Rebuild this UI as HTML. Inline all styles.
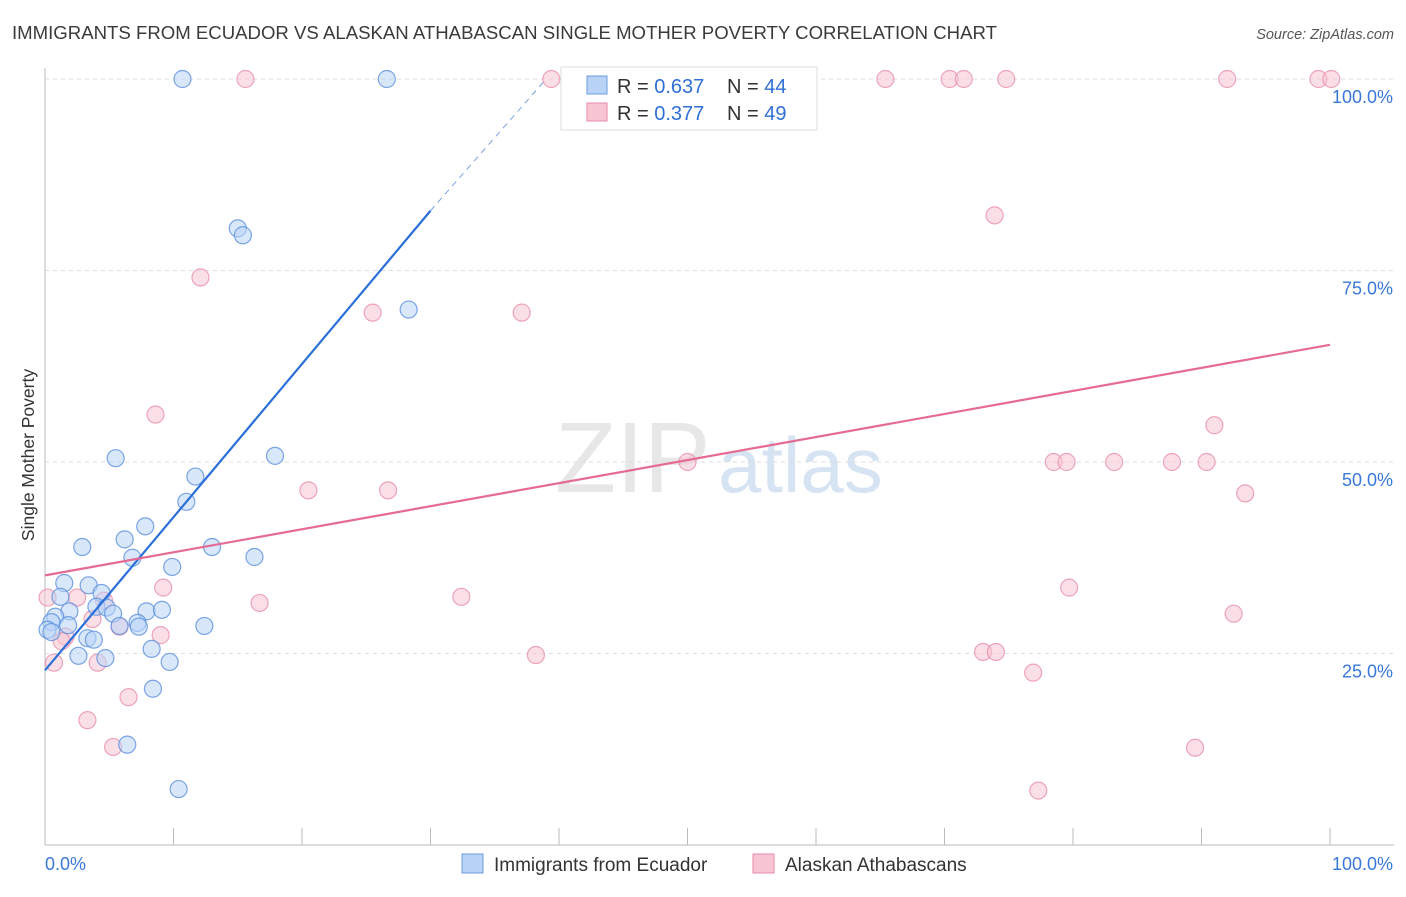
<!DOCTYPE html>
<html><head><meta charset="utf-8"><style>
body{margin:0;background:#fff;font-family:"Liberation Sans",sans-serif}
svg text{font-family:"Liberation Sans",sans-serif}
</style></head><body>
<svg id="c" width="1406" height="892">
<text x="12" y="39" font-size="18.6" fill="#3a3a3a">IMMIGRANTS FROM ECUADOR VS ALASKAN ATHABASCAN SINGLE MOTHER POVERTY CORRELATION CHART</text>
<text x="1394" y="39" font-size="14.5" fill="#555" font-style="italic" text-anchor="end">Source: ZipAtlas.com</text>
<text x="34" y="455" font-size="17.5" fill="#333" text-anchor="middle" transform="rotate(-90 34 455)">Single Mother Poverty</text>
<g><text x="555" y="492" font-size="100" fill="#ddd" font-family="Liberation Serif" opacity="0.7">ZIP</text><text x="718" y="492" font-size="78" fill="#c6d8ef" opacity="0.7">atlas</text></g>
<g id="grid"></g><g id="marks"></g>
<g>
<rect x="561" y="67" width="256" height="63" fill="#fff" stroke="#ddd"/>
<rect x="587" y="76" width="20" height="18" fill="#b8d3f5" stroke="#6b9be0"/>
<text x="617" y="93" font-size="20" fill="#333">R = <tspan fill="#2f6fd6">0.637</tspan></text>
<text x="727" y="93" font-size="20" fill="#333">N = <tspan fill="#2f6fd6">44</tspan></text>
<rect x="587" y="103" width="20" height="18" fill="#f8c5d3" stroke="#e78aa6"/>
<text x="617" y="120" font-size="20" fill="#333">R = <tspan fill="#2f6fd6">0.377</tspan></text>
<text x="727" y="120" font-size="20" fill="#333">N = <tspan fill="#2f6fd6">49</tspan></text>
</g>
<g>
<rect x="462" y="854" width="21" height="19" fill="#b8d3f5" stroke="#6b9be0"/>
<text x="494" y="871" font-size="19" fill="#333">Immigrants from Ecuador</text>
<rect x="753" y="854" width="21" height="19" fill="#f8c5d3" stroke="#e78aa6"/>
<text x="785" y="871" font-size="19" fill="#333">Alaskan Athabascans</text>
</g>
</svg>
<script>
const yTicks=[25,50,75,100];
const xTickLabels=["0.0%","100.0%"];
const blueX=[10.7,26.6,15.0,15.4,28.3,5.5,17.9,11.7,11.0,7.8,6.2,2.9,13.0,6.8,16.3,9.9,1.5,3.4,1.2,4.4,4.0,1.9,7.9,9.1,4.8,5.3,0.8,0.5,1.8,7.2,7.3,5.8,12.4,0.2,0.5,3.3,3.8,8.3,2.6,4.7,9.7,8.4,6.4,10.4];
const blueY=[100,100,80.5,79.6,69.9,50.5,50.8,48.1,44.8,41.6,39.9,38.9,38.9,37.5,37.6,36.3,34.2,33.9,32.4,32.9,31.1,30.5,30.5,30.7,31.0,30.2,29.8,29.1,28.7,29.0,28.5,28.6,28.6,28.1,27.8,27.0,26.8,25.6,24.7,24.4,23.9,20.4,13.1,7.3];
const pinkX=[15.6,39.4,65.4,70.4,71.5,74.8,92.0,99.1,100.1,73.9,12.1,25.5,37.1,8.6,91.0,50.0,78.5,79.5,83.2,87.7,90.4,20.5,26.7,93.4,9.2,79.7,32.4,0.2,2.5,4.6,16.7,92.5,3.7,5.8,9.0,1.6,1.3,73.0,74.0,38.2,0.7,4.1,76.9,6.5,3.3,5.3,89.5,77.3];
const pinkY=[100,100,100,100,100,100,100,100,100,82.2,74.1,69.5,69.5,56.2,54.8,50.0,50.0,50.0,50.0,50.0,50.0,46.3,46.3,45.9,33.6,33.6,32.4,32.3,32.3,31.9,31.6,30.2,29.5,28.5,27.4,27.2,26.6,25.2,25.2,24.8,23.8,23.8,22.5,19.3,16.3,12.8,12.7,7.1];
const blueFit=[[0,22.8],[30,82.8]],blueDash=[[30,82.8],[39,100]];
const pinkFit=[[0,35.2],[100,65.3]];
const NS="http://www.w3.org/2000/svg";
const X=v=>45+v*12.85, Y=v=>845-v*7.66;
const grid=document.getElementById('grid'),marks=document.getElementById('marks');
function mk(tag,attrs,parent){const e=document.createElementNS(NS,tag);for(const k in attrs)e.setAttribute(k,attrs[k]);parent.appendChild(e);return e;}
let ax=mk('line',{x1:45,y1:68,x2:45,y2:845,stroke:'#bbb'},grid);


let bx=mk('line',{x1:45,y1:845,x2:1394,y2:845,stroke:'#bbb'},grid);


yTicks.forEach(t=>{
 let g=mk('line',{x1:45,x2:1394,y1:Y(t),y2:Y(t),stroke:'#ddd','stroke-dasharray':'4,4'},grid);
 
 
 let tx=mk('text',{x:1393,y:Y(t)+24,'font-size':18,fill:'#3a78d8','text-anchor':'end'},grid);
 tx.textContent=t.toFixed(1)+'%';
 
 
});
for(let i=0;i<=10;i++){let t=mk('line',{x1:X(i*10),x2:X(i*10),y1:828,y2:845,stroke:'#bbb'},grid);
 
 }
xTickLabels.forEach((l,i)=>{let t=mk('text',{x:i?1393:45,y:870,'font-size':18,fill:'#3a78d8','text-anchor':i?'end':'start'},grid);t.textContent=l;
 
 });
function pts(xs,ys,fill,stroke,name){xs.forEach((x,i)=>{let c=mk('circle',{cx:X(x),cy:Y(ys[i]),r:8.5,fill:fill,'fill-opacity':0.55,stroke:stroke,'stroke-opacity':0.8,'stroke-width':1.2},marks);
 
 });}
pts(pinkX,pinkY,'#f8c5d3','#e890aa','pink-point');
pts(blueX,blueY,'#b8d3f5','#5d90de','blue-point');
function ln(p,col,dash,name){let l=mk('line',{x1:X(p[0][0]),y1:Y(p[0][1]),x2:X(p[1][0]),y2:Y(p[1][1]),stroke:col,'stroke-width':dash?1:2.2,'stroke-dasharray':dash?'6,5':'none'},marks);
 
 }
ln(blueFit,'#2b6fd8',false,'blue-trendline');
ln(blueDash,'#7aa3e2',true,'blue-trendline-extension');
ln(pinkFit,'#e56b94',false,'pink-trendline');
</script>
</body></html>
